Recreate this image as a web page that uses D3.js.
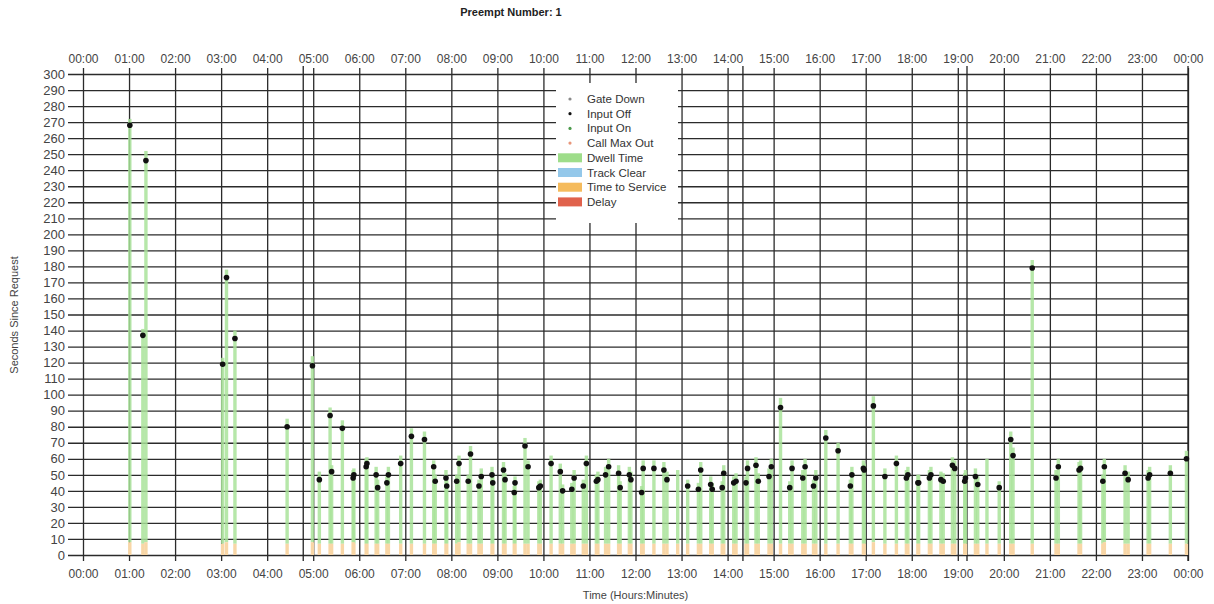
<!DOCTYPE html>
<html>
<head>
<meta charset="utf-8">
<script src="https://cdn.jsdelivr.net/npm/d3@7"></script>
<style>
	body { margin: 0; background: #fff; }
	svg { font-family: "Liberation Sans", Arial, sans-serif; }
	.tick text { fill: #444; font-size: 12px; }
	.yaxis .tick text { font-size: 13px; }
	.grid line, .grid path { stroke: #2b2b2b; stroke-width: 1.3; }
	.domain { display: none; }
</style>
</head>
<body>
<svg></svg>
<script>
// preempt events, time of day
const eventTimes = [
	"01:01","01:18","01:22","03:02","03:07","03:18","04:26","04:59","05:08","05:22",
	"05:24","05:38","05:52","05:53","06:09","06:10","06:22","06:24","06:36","06:38",
	"06:54","07:08","07:25","07:37","07:39","07:53","07:54","08:07","08:10","08:22",
	"08:25","08:36","08:39","08:53","08:54","09:08","09:10","09:22","09:23","09:36",
	"09:40","09:54","09:56","10:10","10:22","10:25","10:37","10:40","10:52","10:56",
	"11:09","11:11","11:21","11:25","11:38","11:40","11:52","11:54","12:08","12:10",
	"12:24","12:37","12:41","12:55","13:08","13:22","13:25","13:38","13:40","13:53",
	"13:55","14:08","14:11","14:24","14:26","14:37","14:40","14:54","14:57","15:09",
	"15:21","15:24","15:38","15:41","15:52","15:55","16:08","16:24","16:40","16:42",
	"16:57","16:58","17:10","17:25","17:40","17:53","17:55","18:08","18:09","18:23",
	"18:25","18:38","18:41","18:53","18:56","19:09","19:10","19:23","19:26","19:38",
	"19:54","20:09","20:12","20:37","21:08","21:11","21:38","21:40","22:09","22:11",
	"22:38","22:42","23:08","23:10","23:37","23:58"]

// seconds since request
const dwellTimes = [
	272,141,252,123,178,140,85,124,52,92,
	56,84,53,54,60,61,55,47,49,55,
	62,79,77,59,50,53,47,50,62,50,
	68,47,54,55,49,58,51,43,49,73,
	59,46,47,62,57,44,45,53,47,62,
	50,52,55,60,56,46,55,52,43,59,
	59,58,52,53,47,45,58,49,45,46,
	56,49,51,49,59,61,51,54,60,98,
	46,59,53,60,47,53,78,70,47,55,
	59,57,99,54,62,53,55,50,50,53,
	55,52,51,61,59,51,53,54,49,60,
	46,77,67,184,53,60,58,59,50,60,
	56,52,53,55,56,65]

const inputOffTimes = [
	268,137,246,119,173,135,80,118,47,87,
	52,79,48,50,55,57,50,42,45,50,
	57,74,72,55,46,48,43,46,57,46,
	63,43,49,50,45,53,47,39,45,68,
	55,42,43,57,52,40,41,48,43,57,
	46,47,50,55,51,42,50,47,39,54,
	54,53,47,null,43,41,53,44,41,42,
	51,45,46,45,54,56,46,49,55,92,
	42,54,48,55,43,48,73,65,43,50,
	54,53,93,49,57,48,50,45,45,48,
	50,47,46,56,54,46,48,49,44,null,
	42,72,62,179,48,55,53,54,46,55,
	51,47,48,50,51,60]

const serviceTimes = [
	8,7,8,7,8,7,7,8,7,7,
	7,7,8,7,7,7,7,7,7,7,
	7,7,7,7,7,7,7,7,8,7,
	7,7,7,7,7,7,7,7,7,7,
	7,7,7,7,7,7,7,7,7,7,
	7,7,7,7,7,7,7,7,7,7,
	7,7,7,7,7,7,7,7,7,7,
	7,7,7,7,7,7,7,7,7,7,
	7,7,7,7,7,7,7,7,7,7,
	7,7,8,7,7,7,7,7,7,7,
	7,7,7,7,7,7,7,7,7,7,
	7,7,7,7,7,7,7,7,7,8,
	7,7,7,7,7,7]

// vertical marker lines
const markerTimes = ["04:47","14:20","19:12","24:00"]

const hourTicks = d3.range(0, 1441, 60)
const secondTicks = d3.range(0, 301, 10)

const legendDots = ["Gate Down", "Input Off", "Input On", "Call Max Out"]
const legendDotColors = ["#8a8a8a", "#111", "#4c9a4c", "#e8967a"]
const legendBars = ["Dwell Time", "Track Clear", "Time to Service", "Delay"]
const legendBarColors = ["#9edd8a", "#94c8ea", "#f5bb5c", "#e0624c"]

const toMin = s => {
	const [h, m] = s.split(":").map(Number)
	return h * 60 + m
}

const svg = d3.select("svg")
	.attr("width", 1214)
	.attr("height", 604)

const plotL = 83, plotR = 1188, plotT = 74, plotB = 555

const x = d3.scaleLinear()
	.domain([0, 1440])
	.range([plotL, plotR])

const y = d3.scaleLinear()
	.domain([0, 300])
	.range([plotB, plotT])

const hourFormat = d => d3.format("02")((d / 60) % 24) + ":00"

// horizontal grid + y labels
svg.append("g")
	.attr("class", "grid yaxis")
	.attr("transform", `translate(${plotL},0)`)
	.call(d3.axisLeft(y).tickValues(secondTicks).tickSizeInner(-(plotR - plotL)).tickPadding(18))
	.call(g => g.selectAll(".tick line").attr("x1", -15))

// vertical grid + bottom labels
svg.append("g")
	.attr("class", "grid")
	.attr("transform", `translate(0,${plotB})`)
	.call(d3.axisBottom(x).tickValues(hourTicks).tickFormat(hourFormat).tickSizeInner(-(plotB - plotT)).tickPadding(14))
	.call(g => g.selectAll(".tick line").attr("y1", 6).attr("y2", -(plotB - plotT) - 6))
	.call(g => g.selectAll(".tick text").attr("dy", "0.71em").attr("y", 14))

// top labels
svg.append("g")
	.attr("class", "grid")
	.attr("transform", `translate(0,${plotT})`)
	.call(d3.axisTop(x).tickValues(hourTicks).tickFormat(hourFormat).tickSize(0).tickPadding(11))

// marker lines
svg.append("g")
	.selectAll("line")
	.data(markerTimes)
	.enter()
	.append("line")
	.attr("x1", d => x(toMin(d)))
	.attr("x2", d => x(toMin(d)))
	.attr("y1", plotT - 8)
	.attr("y2", plotB + 6)
	.attr("stroke", "#222")
	.attr("stroke-width", 1.3)

const events = eventTimes.map((t, i) => ({
	t: toMin(t),
	dwell: dwellTimes[i],
	off: inputOffTimes[i],
	service: serviceTimes[i]
}))

const barW = 3.4

// dwell time bars
svg.append("g")
	.selectAll("rect")
	.data(events)
	.enter()
	.append("rect")
	.attr("x", d => x(d.t) - barW / 2)
	.attr("y", d => y(d.dwell))
	.attr("width", barW)
	.attr("height", d => y(d.service) - y(d.dwell))
	.attr("fill", "#a9e39a")
	.attr("opacity", 0.85)

// time to service
svg.append("g")
	.selectAll("rect")
	.data(events)
	.enter()
	.append("rect")
	.attr("x", d => x(d.t) - barW / 2)
	.attr("y", d => y(d.service))
	.attr("width", barW)
	.attr("height", d => y(0) - y(d.service))
	.attr("fill", "#f8d6a6")

// input off dots
svg.append("g")
	.selectAll("circle")
	.data(events.filter(d => d.off != null))
	.enter()
	.append("circle")
	.attr("cx", d => x(d.t))
	.attr("cy", d => y(d.off))
	.attr("r", 2.8)
	.attr("fill", "#111")

// legend
const legend = svg.append("g")
	.attr("transform", "translate(556,83)")

legend.append("rect")
	.attr("width", 122)
	.attr("height", 140)
	.attr("fill", "#fff")

const rowY = i => 16 + i * 14.7

legend.selectAll("circle")
	.data(legendDots)
	.enter()
	.append("circle")
	.attr("cx", 14)
	.attr("cy", (d, i) => rowY(i))
	.attr("r", 1.6)
	.attr("fill", (d, i) => legendDotColors[i])

legend.selectAll("rect.sw")
	.data(legendBars)
	.enter()
	.append("rect")
	.attr("class", "sw")
	.attr("x", 2)
	.attr("y", (d, i) => rowY(i + 4) - 4.5)
	.attr("width", 24)
	.attr("height", 9)
	.attr("fill", (d, i) => legendBarColors[i])

legend.selectAll("text")
	.data(legendDots.concat(legendBars))
	.enter()
	.append("text")
	.attr("x", 31)
	.attr("y", (d, i) => rowY(i) + 4)
	.attr("font-size", 11.5)
	.attr("fill", "#333")
	.text(d => d)

// titles
svg.append("text")
	.attr("x", 511)
	.attr("y", 16)
	.attr("text-anchor", "middle")
	.attr("font-size", 11)
	.attr("font-weight", "bold")
	.attr("fill", "#222")
	.text("Preempt Number: 1")

svg.append("text")
	.attr("x", (plotL + plotR) / 2)
	.attr("y", 599)
	.attr("text-anchor", "middle")
	.attr("font-size", 11)
	.attr("fill", "#444")
	.text("Time (Hours:Minutes)")

svg.append("text")
	.attr("transform", "translate(18,315) rotate(-90)")
	.attr("text-anchor", "middle")
	.attr("font-size", 11)
	.attr("fill", "#444")
	.text("Seconds Since Request")
</script>
</body>
</html>
